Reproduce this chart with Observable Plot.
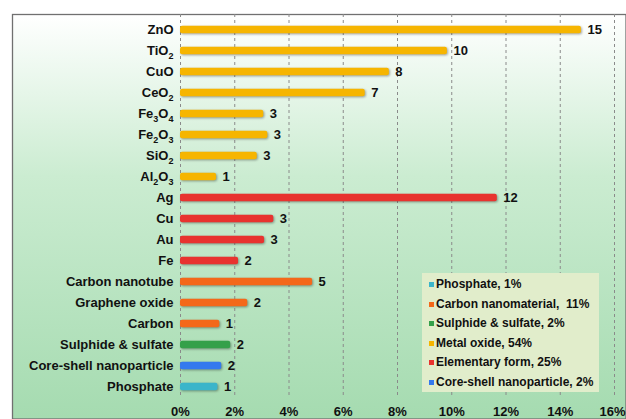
<!DOCTYPE html>
<html>
<head>
<meta charset="utf-8">
<script src="https://cdn.jsdelivr.net/npm/d3@7"></script>
<script src="https://cdn.jsdelivr.net/npm/@observablehq/plot@0.6"></script>
<style>
  html, body { margin: 0; padding: 0; background: #fff; overflow: hidden; }
  #wrap { position: relative; width: 626px; height: 419px; font-family: "Liberation Sans", Arial, sans-serif; }
  #wrap svg g[aria-label="bar"] rect { filter: drop-shadow(1px 1.5px 0.8px rgba(0,0,0,0.35)); }
  #legend { position: absolute; left: 422px; top: 273px; width: 177px; height: 119px; background: #e1edcb;
    box-sizing: border-box; padding: 2px 0 0 7px; font-weight: bold; font-size: 12px; color: #111; }
  #legend .row { height: 19.5px; line-height: 19.5px; white-space: pre; display: flex; align-items: center; }
  #legend .sw { width: 5px; height: 5px; margin-right: 2px; flex: none; }
</style>
</head>
<body>
<div id="wrap"></div>
<script>
// ---- data ----
const names = ["ZnO","TiO2","CuO","CeO2","Fe3O4","Fe2O3","SiO2","Al2O3","Ag","Cu","Au","Fe",
  "Carbon nanotube","Graphene oxide","Carbon","Sulphide & sulfate","Core-shell nanoparticle","Phosphate"];
const percents = [14.78, 9.84, 7.70, 6.81, 3.07, 3.22, 2.83, 1.33, 11.68, 3.44, 3.10, 2.14,
  4.87, 2.48, 1.45, 1.85, 1.52, 1.38];
const counts = [15, 10, 8, 7, 3, 3, 3, 1, 12, 3, 3, 2, 5, 2, 1, 2, 2, 1];
const groups = ["Metal oxide","Metal oxide","Metal oxide","Metal oxide","Metal oxide","Metal oxide","Metal oxide","Metal oxide",
  "Elementary form","Elementary form","Elementary form","Elementary form",
  "Carbon nanomaterial","Carbon nanomaterial","Carbon nanomaterial",
  "Sulphide & sulfate","Core-shell nanoparticle","Phosphate"];
const xTicks = [0, 2, 4, 6, 8, 10, 12, 14, 16];
const legendGroups = ["Phosphate","Carbon nanomaterial","Sulphide & sulfate","Metal oxide","Elementary form","Core-shell nanoparticle"];
const legendLabels = ["Phosphate, 1%","Carbon nanomaterial,  11%","Sulphide & sulfate, 2%","Metal oxide, 54%","Elementary form, 25%","Core-shell nanoparticle, 2%"];
const colorDomain = ["Metal oxide","Elementary form","Carbon nanomaterial","Sulphide & sulfate","Core-shell nanoparticle","Phosphate"];
const colorRange = ["#f6b500","#e8332f","#f4681a","#34a04a","#3479ee","#3bb5ca"];

const rows = names.map((n, i) => ({name: n, pct: percents[i], count: counts[i], group: groups[i]}));
const axisStyle = {tickFormat: d => d + "%", tickSize: 0, tickPadding: 8.5,
  fontWeight: "bold", fontSize: 13, fill: "#111", label: null};

const plot = Plot.plot({
  width: 626,
  height: 419,
  marginLeft: 180,
  marginRight: 12,
  marginTop: 18.5,
  marginBottom: 21,
  style: {background: "transparent", fontFamily: "Liberation Sans, Arial, sans-serif"},
  x: {domain: [0, 16], ticks: xTicks, axis: null, label: null},
  y: {domain: names, padding: 0, axis: null, label: null},
  color: {domain: colorDomain, range: colorRange},
  marks: [
    Plot.ruleX(xTicks, {stroke: "#8a8a8a", strokeWidth: 1, strokeDasharray: "3,3", insetTop: -4.5}),
    Plot.barX(rows, {x: "pct", y: "name", fill: "group", insetTop: 6.8, insetBottom: 6.8, rx: 2}),
    Plot.text(rows, {x: "pct", y: "name", text: d => String(d.count), dx: 6, textAnchor: "start",
      fontWeight: "bold", fontSize: 13, fill: "#111"}),
    Plot.axisY({tickSize: 0, tickPadding: 7, fontWeight: "bold", fontSize: 13, fill: "#111", label: null}),
    Plot.axisX({...axisStyle, ticks: xTicks.slice(0, -1)}),
    Plot.axisX({...axisStyle, ticks: xTicks.slice(-1), dx: -2})
  ]
});

// background panel with gradient and border (decoration)
const svg = d3.select(plot);
const defs = svg.insert("defs", ":first-child");
const grad = defs.append("linearGradient").attr("id", "bggrad").attr("x1", 0).attr("y1", 0).attr("x2", 0).attr("y2", 1);
grad.append("stop").attr("offset", "0%").attr("stop-color", "#ffffff");
grad.append("stop").attr("offset", "40%").attr("stop-color", "#cbecd1");
grad.append("stop").attr("offset", "100%").attr("stop-color", "#a5dbb0");
svg.insert("rect", "defs + *")
  .attr("x", 12.5).attr("y", 14.5).attr("width", 626 - 12.5).attr("height", 419 - 14.5)
  .attr("fill", "url(#bggrad)").attr("stroke", "#707070").attr("stroke-width", 1.3);

// subscripts in chemical formulas
svg.selectAll('g[aria-label="y-axis tick label"] text').each(function() {
  const t = this.textContent;
  if (!/\d/.test(t) || /\s/.test(t)) return;
  const el = d3.select(this);
  el.text(null);
  let sub = false;
  for (const part of t.match(/\d+|\D+/g)) {
    const isNum = /\d/.test(part);
    const ts = el.append("tspan").text(part);
    if (isNum) ts.attr("dy", 3.5).attr("font-size", 9);
    else if (sub) ts.attr("dy", -3.5);
    sub = isNum;
  }
});

const wrap = document.getElementById("wrap");
wrap.appendChild(plot);

// legend
const colorOf = d3.scaleOrdinal(colorDomain, colorRange);
const legend = document.createElement("div");
legend.id = "legend";
legendGroups.forEach((g, i) => {
  const row = document.createElement("div");
  row.className = "row";
  const sw = document.createElement("span");
  sw.className = "sw";
  sw.style.background = colorOf(g);
  const tx = document.createElement("span");
  tx.textContent = legendLabels[i];
  row.appendChild(sw); row.appendChild(tx);
  legend.appendChild(row);
});
wrap.appendChild(legend);
</script>
</body>
</html>
